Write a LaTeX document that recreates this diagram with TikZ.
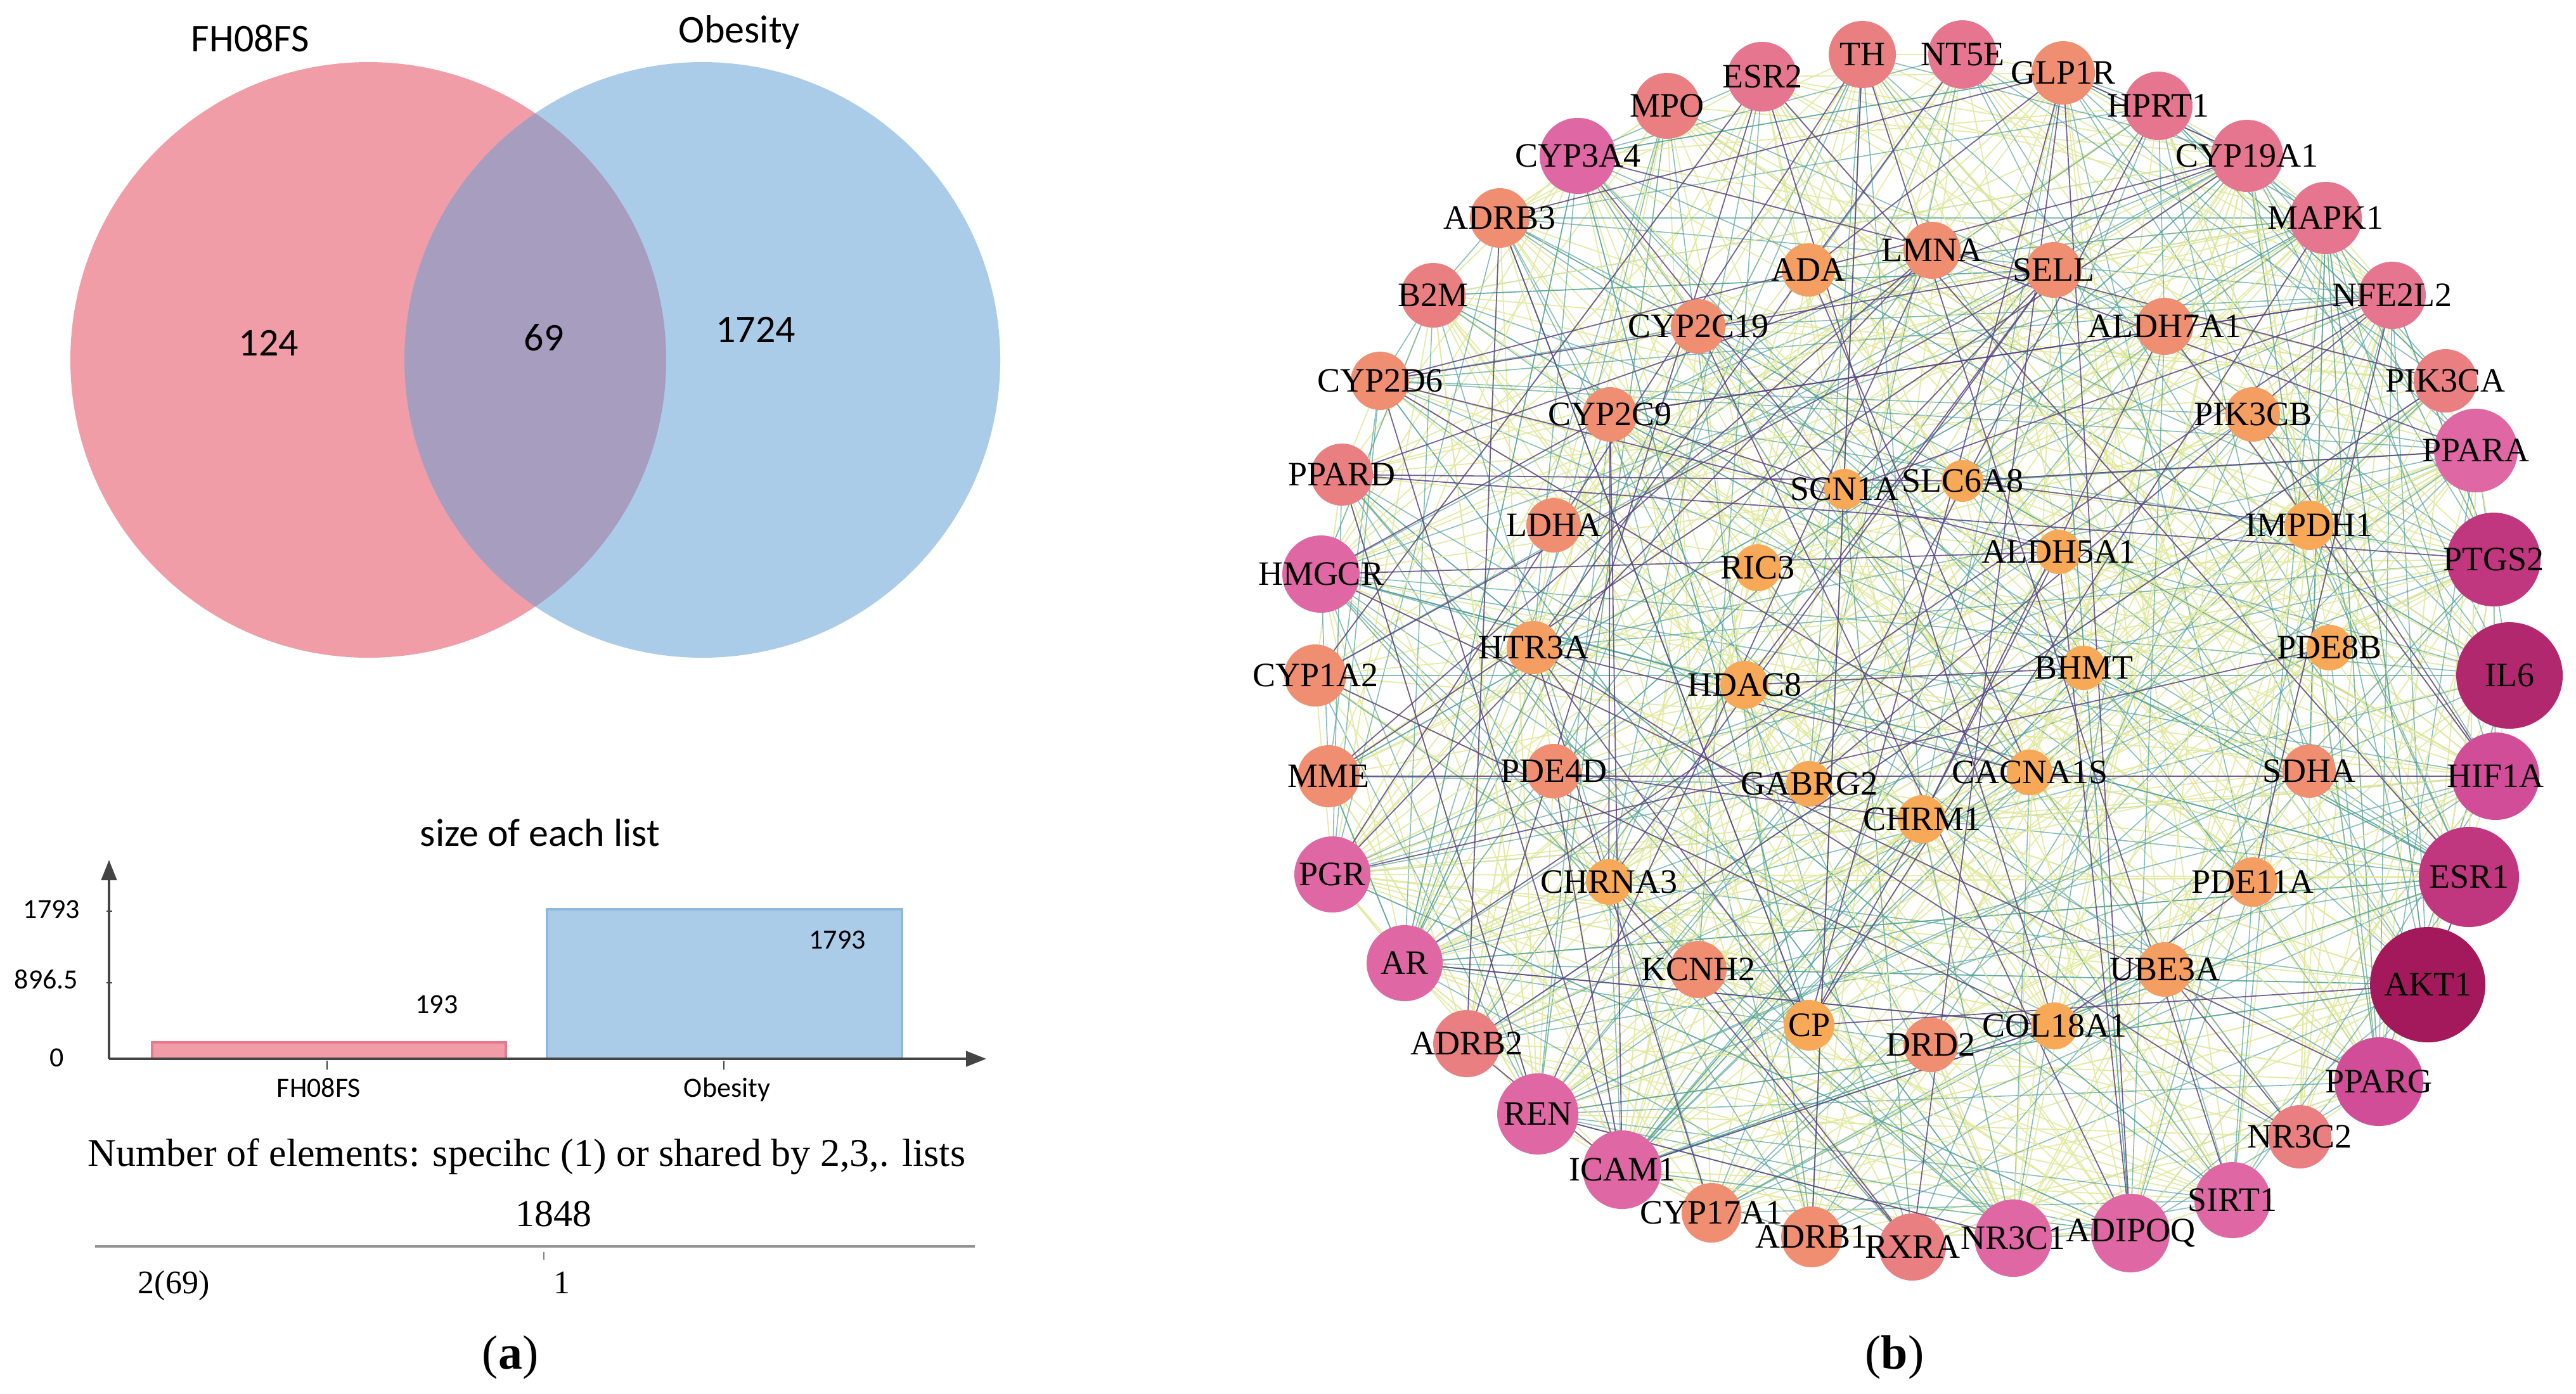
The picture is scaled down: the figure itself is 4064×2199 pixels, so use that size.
\documentclass[tikz,border=0pt]{standalone}
\usepackage{fontspec}
\setmainfont{Liberation Serif}
\newfontfamily\carl{Carlito}
\usetikzlibrary{arrows.meta,backgrounds}

\definecolor{vpink}{HTML}{F09DA8}
\definecolor{vblue}{HTML}{AACCE8}
\definecolor{vmix}{HTML}{A69DBF}
\definecolor{barpinkline}{HTML}{E8788C}
\definecolor{barblueline}{HTML}{8DB9DE}
\definecolor{axisgray}{HTML}{444444}
\definecolor{cA}{HTML}{F8A958}
\definecolor{cAb}{HTML}{F49E62}
\definecolor{cB}{HTML}{F08E72}
\definecolor{cC}{HTML}{EA7F82}
\definecolor{cD}{HTML}{E6768F}
\definecolor{cE}{HTML}{DF67A4}
\definecolor{cF}{HTML}{D14D98}
\definecolor{cG}{HTML}{C0367F}
\definecolor{cH}{HTML}{B2286F}
\definecolor{cI}{HTML}{A4195B}
\definecolor{eyelc}{HTML}{E2E99E}
\definecolor{etealc}{HTML}{55A39C}
\definecolor{epurc}{HTML}{5B4584}

\tikzset{
  gnode/.style={circle, inner sep=0pt, draw=none},
  glab/.style={font=\fontsize{13.5}{14}\selectfont, text=black, inner sep=0pt},
  vlab/.style={font=\carl\fontsize{15.5}{18}\selectfont, inner sep=0pt, anchor=base},
  tlab/.style={font=\carl\fontsize{11}{13}\selectfont, inner sep=0pt},
  slab/.style={font=\fontsize{15.5}{18}\selectfont, inner sep=0pt, anchor=base},
  axisline/.style={draw=axisgray, line width=1.1pt, -{Triangle[length=8pt,width=6pt]}},
  tickline/.style={draw=axisgray, line width=0.6pt},
  eyel/.style={draw=eyelc, line width=0.45pt, draw opacity=0.9},
  eteal/.style={draw=etealc, line width=0.4pt, draw opacity=0.7},
  epur/.style={draw=epurc, line width=0.45pt, draw opacity=0.85}
}

\def\genelist{TH/2938/86/53/cC, NT5E/3096/86/54/cD, GLP1R/3255/115/50/cB, HPRT1/3405/167/54/cD,
CYP19A1/3545/246/57/cD, MAPK1/3669/344/57/cD, NFE2L2/3774/466/53/cD, PIK3CA/3858/601/50/cC,
PPARA/3906/711/66/cE, PTGS2/3934/883/74/cG, IL6/3959/1066/84/cH, HIF1A/3937/1225/69/cF,
ESR1/3895/1384/79/cG, AKT1/3830/1554/91/cI, PPARG/3753/1707/70/cF, NR3C2/3628/1794/50/cC,
SIRT1/3522/1894/60/cE, ADIPOQ/3361/1946/62/cE, NR3C1/3176/1954/61/cE, RXRA/3017/1968/53/cC,
ADRB1/2858/1952/48/cB, CYP17A1/2700/1914/47/cB, ICAM1/2559/1846/62/cE, REN/2426/1758/64/cE,
ADRB2/2314/1647/53/cC, AR/2216/1520/60/cE, PGR/2102/1380/60/cE, MME/2096/1225/49/cB,
CYP1A2/2075/1066/49/cB, HMGCR/2084/906/61/cE, PPARD/2117/749/49/cC, CYP2D6/2177/601/46/cB,
B2M/2261/466/51/cC, ADRB3/2366/344/47/cB, CYP3A4/2489/246/60/cE, MPO/2630/167/52/cC,
ESR2/2780/121/55/cD,
ADA/2853/426/42/cAb, LMNA/3048/395/45/cB, SELL/3240/426/44/cB, ALDH7A1/3415/515/45/cB,
PIK3CB/3554/654/43/cAb, IMPDH1/3643/829/39/cA, PDE8B/3675/1022/36/cA, SDHA/3643/1217/42/cB,
PDE11A/3554/1392/39/cAb, UBE3A/3415/1530/43/cAb, COL18A1/3241/1619/37/cA, DRD2/3046/1649/43/cB,
CP/2854/1618/40/cA, KCNH2/2679/1530/45/cB, CHRNA3/2538/1392/36/cA, PDE4D/2451/1217/43/cB,
HTR3A/2419/1022/42/cAb, LDHA/2451/829/43/cB, CYP2C9/2540/654/43/cB, CYP2C19/2679/515/43/cB,
SCN1A/2910/772/32/cA, SLC6A8/3096/759/33/cA, ALDH5A1/3248/871/35/cA, BHMT/3287/1054/35/cA,
CACNA1S/3202/1219/36/cA, CHRM1/3032/1293/38/cA, GABRG2/2854/1237/36/cA, HDAC8/2752/1081/38/cA,
RIC3/2773/896/37/cA}

\begin{document}
\begin{tikzpicture}[x=0.25pt, y=-0.25pt]
\path[use as bounding box] (0,0) rectangle (4064,2199);
\begin{scope}[on background layer]
  \fill[white] (0,0) rectangle (4064,2199);
\end{scope}

% ---------------- (a) Venn diagram ----------------
\node[circle, inner sep=0pt, fill=vpink, minimum size=235pt] (setA) at (581,568) {};
\node[circle, inner sep=0pt, fill=vblue, minimum size=235pt] (setB) at (1108,568) {};
\begin{scope}
  \clip (setA.center) circle (117.5pt);
  \fill[vmix] (setB.center) circle (117.5pt);
\end{scope}
\node[vlab] (titleA) at (395,81) {FH08FS};
\node[vlab] (titleB) at (1166,67) {Obesity};
\node[vlab] (onlyA) at (424,561) {124};
\node[vlab] (both) at (858,553) {69};
\node[vlab] (onlyB) at (1192,540) {1724};

% ---------------- bar chart ----------------
\node[vlab] (charttitle) at (852,1335) {size of each list};
\fill[vpink] (240,1645) rectangle (798,1669);
\draw[barpinkline, line width=0.8pt] (240,1669) -- (240,1645) -- (798,1645) -- (798,1669);
\fill[vblue] (863,1435) rectangle (1423,1669);
\draw[barblueline, line width=0.8pt] (863,1669) -- (863,1435) -- (1423,1435) -- (1423,1669);
\coordinate (origin) at (172,1671);
\coordinate (ytip) at (172,1357);
\coordinate (xtip) at (1556,1671);
\draw[axisline] (origin) -- (ytip);
\draw[axisline] (origin) -- (xtip);
\draw[tickline] (168,1438) -- (177,1438);
\draw[tickline] (168,1551) -- (177,1551);
\draw[tickline] (516,1674) -- (516,1688);
\draw[tickline] (1142,1674) -- (1142,1688);
\node[tlab, anchor=base east] (y1793) at (127,1449) {1793};
\node[tlab, anchor=base east] (y896) at (124,1560) {896.5};
\node[tlab, anchor=base east] (y0) at (102,1683) {0};
\node[tlab, anchor=base] (v193) at (689,1599) {193};
\node[tlab, anchor=base] (v1793) at (1321,1497) {1793};
\node[tlab, anchor=base] (xA) at (503,1731) {FH08FS};
\node[tlab, anchor=base] (xB) at (1147,1731) {Obesity};

\node[slab] (numtitle) at (831,1840) {Number of elements: specihc (1) or shared by 2,3,. lists};
\node[slab, font=\fontsize{15}{18}\selectfont] (total) at (873,1935) {1848};
\coordinate (lineL) at (150,1967);
\coordinate (lineR) at (1538,1967);
\draw[draw=gray!85, line width=1.2pt] (lineL) -- (lineR);
\draw[draw=gray, line width=0.5pt] (858,1976) -- (858,1988);
\node[slab, font=\fontsize{13}{15}\selectfont] (shared2) at (274,2041) {2(69)};
\node[slab, font=\fontsize{13}{15}\selectfont] (single1) at (886,2041) {1};
\node[slab, font=\fontsize{19}{22}\selectfont] (lblA) at (805,2160) {(\textbf{a})};

% ---------------- (b) network ----------------
\foreach \n/\x/\y/\r/\c [count=\i] in \genelist {
  \node[gnode, fill=\c, minimum size=\r*0.5pt, alias=v\i] (\n) at (\x,\y) {};
}
\begin{scope}[on background layer]
  \pgfmathsetseed{20231}
  \foreach \k in {1,...,280}{
    \pgfmathrandominteger{\ea}{1}{66}
    \pgfmathrandominteger{\eb}{1}{37}
    \draw[eyel] (v\ea.center) -- (v\eb.center);
  }
  \foreach \k in {1,...,160}{
    \pgfmathrandominteger{\ea}{1}{66}
    \pgfmathrandominteger{\eb}{1}{37}
    \draw[eteal] (v\ea.center) -- (v\eb.center);
  }
  \foreach \h in {14,11,13,10,15,12,9,17,18,23,27,26,35,30,19,24,5,6}{
    \foreach \k in {1,...,7}{
      \pgfmathrandominteger{\eb}{1}{66}
      \draw[eteal] (v\h.center) -- (v\eb.center);
    }
    \foreach \k in {1,...,7}{
      \pgfmathrandominteger{\eb}{1}{66}
      \draw[eyel] (v\h.center) -- (v\eb.center);
    }
  }
  \foreach \k in {1,...,85}{
    \pgfmathrandominteger{\ea}{1}{66}
    \pgfmathrandominteger{\eb}{1}{66}
    \draw[epur] (v\ea.center) -- (v\eb.center);
  }
\end{scope}
\foreach \n/\x/\y/\r/\c in \genelist {
  \node[glab] (t\n) at (\n.center) {\n};
}
\node[slab, font=\fontsize{19}{22}\selectfont] (lblB) at (2989,2160) {(\textbf{b})};
\end{tikzpicture}
\end{document}
